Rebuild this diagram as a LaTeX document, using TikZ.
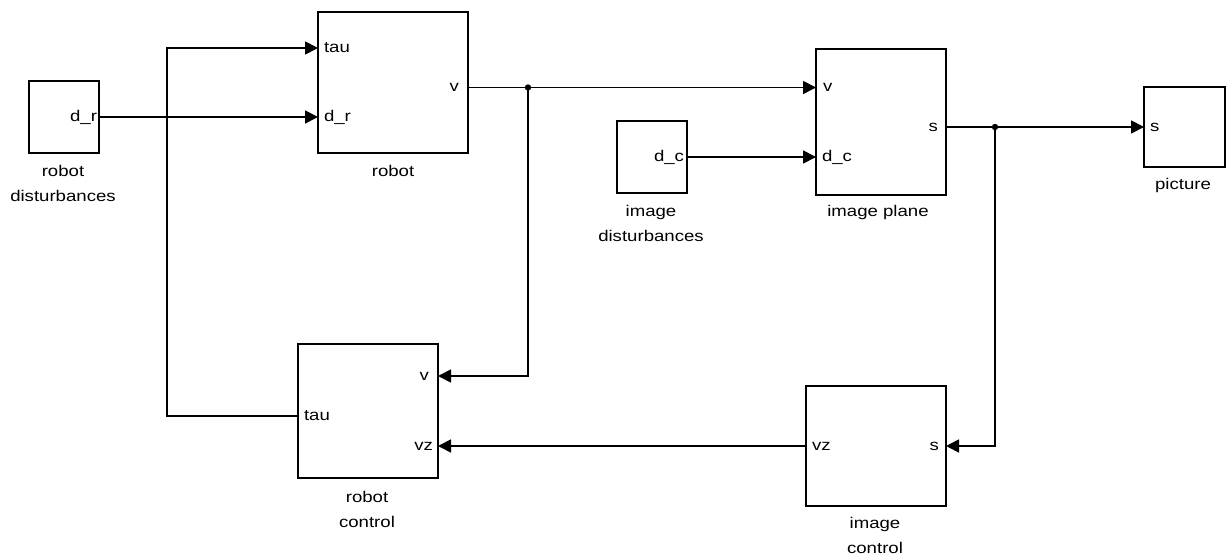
\documentclass[tikz,border=0pt]{standalone}
\usepackage{fontspec}
\usepackage{tikz}
\usetikzlibrary{arrows.meta}
\newfontfamily\blkfont[FakeStretch=1.2]{Liberation Sans}
\tikzset{every picture/.append style={font=\blkfont\fontsize{15.5}{25}\selectfont}}
\tikzset{
  blk/.style={draw,line width=1.8pt,inner sep=0pt,outer sep=0pt},
  portin/.style={anchor=west,inner sep=0pt,outer sep=0pt,text depth=0pt,text height=0pt},
  portout/.style={anchor=east,inner sep=0pt,outer sep=0pt,text depth=0pt,text height=0pt},
  lbl/.style={anchor=base,align=center,inner sep=0pt},
  sig/.style={line width=1.8pt,-{Triangle[length=13pt,width=13pt]}},
  wire/.style={line width=1.8pt}
}

\begin{document}
\begin{tikzpicture}[x=1pt,y=-1pt]
    \useasboundingbox (0,0) rectangle (1229,556);
    % blocks
    \node[blk,minimum width=70pt,minimum height=72pt] (rdist) at (64,117) {};
    \node[blk,minimum width=150pt,minimum height=141pt] (robot) at (393,82.5) {};
    \node[blk,minimum width=70pt,minimum height=72pt] (idist) at (652,157) {};
    \node[blk,minimum width=130pt,minimum height=146pt] (plane) at (881,122) {};
    \node[blk,minimum width=81pt,minimum height=80pt] (pic) at (1184.5,127) {};
    \node[blk,minimum width=140pt,minimum height=134pt] (rctrl) at (368,411) {};
    \node[blk,minimum width=140pt,minimum height=120pt] (ictrl) at (876,446) {};
    % block labels (base = last line)
    \node[lbl] (rdist-lbl) at (63,202) {robot\\disturbances};
    \node[lbl] (robot-lbl) at (393,177) {robot};
    \node[lbl] (idist-lbl) at (651,242) {image\\disturbances};
    \node[lbl] (plane-lbl) at (878,217) {image plane};
    \node[lbl] (pic-lbl) at (1183,190) {picture};
    \node[lbl] (rctrl-lbl) at (367,527) {robot\\control};
    \node[lbl] (ictrl-lbl) at (875,553) {image\\control};
    % ports
    \node[portout] (rdist-dr) at (99,117) {\raisebox{-0.5ex}{d\_r\hspace{2pt}}};
    \node[portin] (robot-tau) at (318,48) {\raisebox{-0.5ex}{\hspace{6pt}tau}};
    \node[portin] (robot-dr) at (318,117) {\raisebox{-0.5ex}{\hspace{6pt}d\_r}};
    \node[portout] (robot-v) at (468,87.5) {\raisebox{-0.5ex}{v\hspace{9pt}}};
    \node[portout] (idist-dc) at (687,157) {\raisebox{-0.5ex}{d\_c\hspace{3pt}}};
    \node[portin] (plane-v) at (816,87.5) {\raisebox{-0.5ex}{\hspace{7pt}v}};
    \node[portin] (plane-dc) at (816,157) {\raisebox{-0.5ex}{\hspace{6pt}d\_c}};
    \node[portout] (plane-s) at (946,127) {\raisebox{-0.5ex}{s\hspace{8pt}}};
    \node[portin] (pic-s) at (1144,127) {\raisebox{-0.5ex}{\hspace{6pt}s}};
    \node[portout] (rctrl-v) at (438,376) {\raisebox{-0.5ex}{v\hspace{9pt}}};
    \node[portin] (rctrl-tau) at (298,416) {\raisebox{-0.5ex}{\hspace{6pt}tau}};
    \node[portout] (rctrl-vz) at (438,446) {\raisebox{-0.5ex}{vz\hspace{5pt}}};
    \node[portin] (ictrl-vz) at (806,446) {\raisebox{-0.5ex}{\hspace{6pt}vz}};
    \node[portout] (ictrl-s) at (946,446) {\raisebox{-0.5ex}{s\hspace{7pt}}};
    % branch points
    \coordinate (j1) at (528,87.5);
    \coordinate (j2) at (995,127);
    \coordinate (fb) at (167,232);
    % signals
    \draw[sig] (rdist-dr.east) -- (robot-dr.west);
    \draw[wire] (robot-v.east) -- (j1);
    \draw[sig] (j1) -- (plane-v.west);
    \draw[sig] (j1) |- (rctrl-v.east);
    \draw[sig] (idist-dc.east) -- (plane-dc.west);
    \draw[wire] (plane-s.east) -- (j2);
    \draw[sig] (j2) -- (pic-s.west);
    \draw[sig] (j2) |- (ictrl-s.east);
    \draw[sig] (ictrl-vz.west) -- (rctrl-vz.east);
    \draw[sig] (rctrl-tau.west) -| (fb) |- (robot-tau.west);
    \fill (j1) circle (3.2pt);
    \fill (j2) circle (3.2pt);
  \end{tikzpicture}
\end{document}
